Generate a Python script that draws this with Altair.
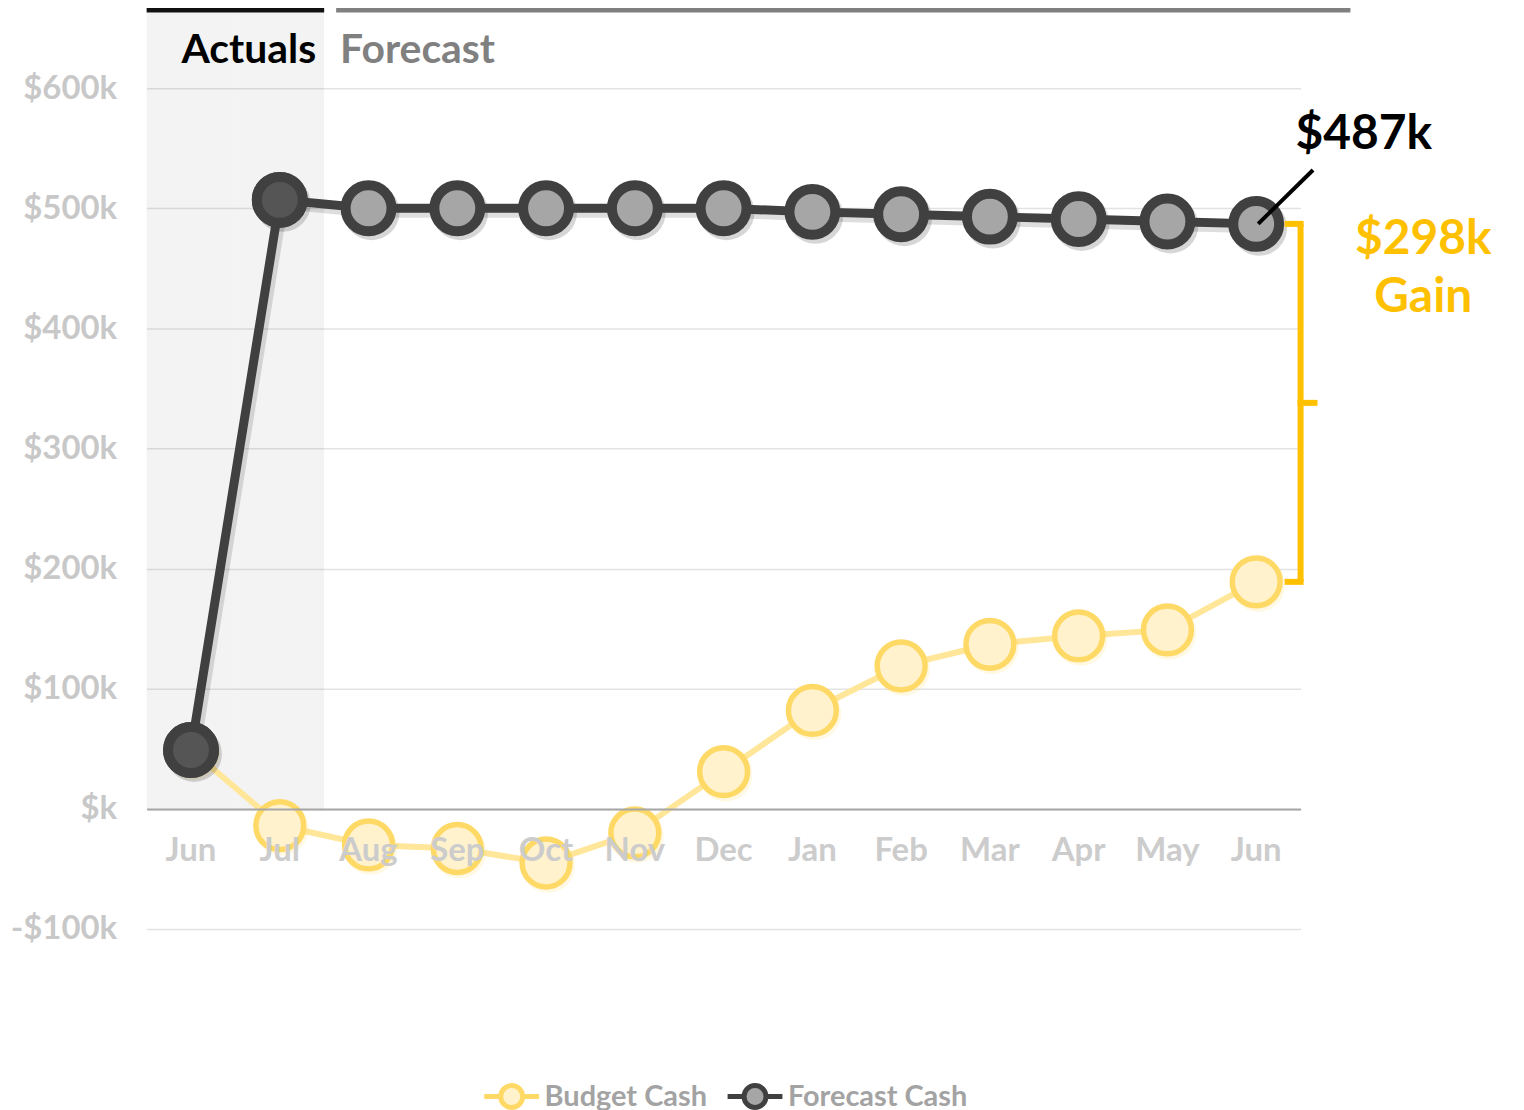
import altair as alt
import pandas as pd

# ---------------- data (in $k) ----------------
periods = ["Jun 2023", "Jul 2023", "Aug 2023", "Sep 2023", "Oct 2023", "Nov 2023",
           "Dec 2023", "Jan 2024", "Feb 2024", "Mar 2024", "Apr 2024", "May 2024", "Jun 2024"]
budget_cash = [49, -14, -30, -33, -45, -20, 31, 82, 119, 137, 144, 149, 189]
forecast_cash = [49, 507, 500, 500, 500, 500, 500, 497, 495, 493, 491, 489, 487]
is_actual = [True, True, False, False, False, False, False, False, False, False, False, False, False]
series_names = ["Budget Cash", "Forecast Cash"]
y_ticks = [-100, 0, 100, 200, 300, 400, 500, 600]

Y_TOP = 663000
Y_BOTTOM = -100000
FONT = "Lato"
PLOT_W = 1157
PLOT_H = 919

budget_df = pd.DataFrame({"period": periods, "value": [v * 1000 for v in budget_cash],
                          "series": "Budget Cash"})
forecast_df = pd.DataFrame({"period": periods, "value": [v * 1000 for v in forecast_cash],
                            "series": "Forecast Cash", "actual": is_actual})
actual_df = forecast_df[forecast_df["actual"]]
shade_df = pd.DataFrame({"period": [p for p, a in zip(periods, is_actual) if a],
                         "value": Y_TOP, "zero": 0})
header_df = pd.DataFrame({"period": [periods[2]], "value": [Y_TOP]})
bar_df = pd.DataFrame({"period": [periods[0], periods[2]], "end": [periods[1], periods[-1]],
                       "value": [Y_TOP, Y_TOP], "kind": ["act", "fc"]})
gain = forecast_cash[-1] - budget_cash[-1]
ann_df = pd.DataFrame({
    "period": [periods[-1]],
    "value": [forecast_cash[-1] * 1000],
    "budget": [budget_cash[-1] * 1000],
    "mid": [(forecast_cash[-1] + budget_cash[-1]) * 500],
    "label": [f"${forecast_cash[-1]}k"],
    "gain": [f"${gain}k\nGain"],
})

xscale = alt.Scale(type="band", domain=periods, paddingInner=0, paddingOuter=0)
yscale = alt.Scale(domain=[Y_BOTTOM, Y_TOP], nice=False, zero=False)

x_axis = alt.Axis(
    title=None, labelExpr="substring(datum.label, 0, 3)", labelAngle=0,
    labelFont=FONT, labelFontSize=33, labelFontWeight="bold", labelColor="#cccccc",
    ticks=False, domainColor="#a6a6a6", domainWidth=2, grid=False,
    offset=-(100000 * PLOT_H / (Y_TOP - Y_BOTTOM)), labelPadding=26, zindex=1)
y_axis = alt.Axis(
    title=None, values=[v * 1000 for v in y_ticks],
    labelExpr="datum.value == 0 ? '$k' : (datum.value < 0 ? '-$' + format(-datum.value/1000, 'd') + 'k' : '$' + format(datum.value/1000, 'd') + 'k')",
    labelFont=FONT, labelFontSize=33, labelFontWeight="bold", labelColor="#c8c8c8",
    ticks=False, domain=False, gridColor="#e3e3e3", gridWidth=1.5, labelPadding=30)


def X(field="period", bp=None):
    kw = {}
    if bp is not None:
        kw["bandPosition"] = bp
    return alt.X(f"{field}:O", scale=xscale, axis=x_axis, title=None, **kw)


def Y(field="value"):
    return alt.Y(f"{field}:Q", scale=yscale, axis=y_axis, title=None)


fill_scale = alt.Scale(domain=series_names, range=["#FFF2CC", "#A6A6A6"])
stroke_scale = alt.Scale(domain=series_names, range=["#FFD966", "#404040"])
legend = alt.Legend(
    title=None, orient="none", legendX=336, legendY=1057, direction="horizontal",
    symbolType="M-1,0L-0.4,0M0.4,0L1,0M0.4,0A0.4,0.4,0,1,1,-0.4,0A0.4,0.4,0,1,1,0.4,0",
    symbolSize=3025, symbolStrokeWidth=5, labelFont=FONT, labelFontSize=29,
    labelFontWeight="bold", labelColor="#a3a3a3", labelOffset=3, columnPadding=10,
    padding=0, labelLimit=400)

shade = alt.Chart(shade_df).mark_rect(fill="#000000", opacity=0.047).encode(
    x=X(), y=Y(), y2="zero:Q")

budget_line = alt.Chart(budget_df).mark_line(color="#FFE699", strokeWidth=6).encode(
    x=X(), y=Y())
budget_glow = alt.Chart(budget_df).mark_circle(color="#FFD966", opacity=0.18, size=2900,
                                               xOffset=2, yOffset=3).encode(x=X(), y=Y())
budget_pts = alt.Chart(budget_df).mark_circle(size=2304, strokeWidth=5.5, opacity=1).encode(
    x=X(), y=Y(),
    fill=alt.Fill("series:N", scale=fill_scale, legend=legend),
    stroke=alt.Stroke("series:N", scale=stroke_scale, legend=legend))

fc_line_shadow = alt.Chart(forecast_df).mark_line(color="#000000", opacity=0.13, strokeWidth=11,
                                                  xOffset=3, yOffset=4).encode(x=X(), y=Y())
fc_pts_shadow = alt.Chart(forecast_df).mark_circle(color="#000000", opacity=0.16, size=3136,
                                                   xOffset=3, yOffset=4).encode(x=X(), y=Y())
fc_line = alt.Chart(forecast_df).mark_line(color="#404040", strokeWidth=9).encode(
    x=X(), y=Y())
fc_pts = alt.Chart(forecast_df).mark_circle(size=2116, strokeWidth=10, opacity=1).encode(
    x=X(), y=Y(),
    fill=alt.Fill("series:N", scale=fill_scale, legend=legend),
    stroke=alt.Stroke("series:N", scale=stroke_scale, legend=legend))
act_pts = alt.Chart(actual_df).mark_circle(size=2116, strokeWidth=10, opacity=1,
                                           fill="#555555", stroke="#404040").encode(
    x=X(), y=Y())

# header
act_text = alt.Chart(header_df).mark_text(
    text="Actuals", align="right", baseline="alphabetic", dx=-8, dy=51,
    font=FONT, fontSize=41, fontWeight="bold", color="#000000").encode(
    x=X(bp=0), y=Y())
fc_text = alt.Chart(header_df).mark_text(
    text="Forecast", align="left", baseline="alphabetic", dx=16, dy=51,
    font=FONT, fontSize=41, fontWeight="bold", color="#808080").encode(
    x=X(bp=0), y=Y())
bar_act = alt.Chart(bar_df[bar_df.kind == "act"]).mark_rule(
    color="#111111", strokeWidth=5, yOffset=-2.5).encode(
    x=X(bp=0), x2=alt.X2("end", bandPosition=1), y=Y())
bar_fc = alt.Chart(bar_df[bar_df.kind == "fc"]).mark_rule(
    color="#808080", strokeWidth=5, yOffset=-2.5, xOffset=12, x2Offset=50).encode(
    x=X(bp=0), x2=alt.X2("end", bandPosition=1), y=Y())

# annotations
leader = alt.Chart(ann_df).mark_rule(color="#000000", strokeWidth=4, xOffset=2, x2Offset=57,
                                     y2Offset=-54).encode(
    x=X(bp=0.5), x2=alt.X2("period", bandPosition=0.5), y=Y(), y2="value:Q")
val_text = alt.Chart(ann_df).mark_text(
    align="center", baseline="alphabetic", dx=108, dy=-75,
    font=FONT, fontSize=48, fontWeight="bold", color="#000000").encode(
    x=X(bp=0.5), y=Y(), text="label:N")
BR = "#FFC000"
br_vert = alt.Chart(ann_df).mark_rule(color=BR, strokeWidth=6).encode(
    x=X(bp=1), y=Y(), y2="budget:Q")
br_top = alt.Chart(ann_df).mark_rule(color=BR, strokeWidth=6, xOffset=-16, x2Offset=3).encode(
    x=X(bp=1), x2=alt.X2("period", bandPosition=1), y=Y())
br_bot = alt.Chart(ann_df).mark_rule(color=BR, strokeWidth=6, xOffset=-16, x2Offset=3).encode(
    x=X(bp=1), x2=alt.X2("period", bandPosition=1), y=Y("budget"))
br_mid = alt.Chart(ann_df).mark_rule(color=BR, strokeWidth=6, xOffset=-3, x2Offset=17).encode(
    x=X(bp=1), x2=alt.X2("period", bandPosition=1), y=Y("mid"))
gain_text = alt.Chart(ann_df).mark_text(
    align="center", baseline="alphabetic", dx=123, dy=30, lineBreak="\n", lineHeight=58,
    font=FONT, fontSize=48, fontWeight="bold", color=BR).encode(
    x=X(bp=1), y=Y(), text="gain:N")

chart = alt.layer(
    shade, budget_line, budget_glow, budget_pts,
    fc_line_shadow, fc_pts_shadow, fc_line, fc_pts, act_pts,
    act_text, fc_text, bar_act, bar_fc,
    leader, val_text, br_vert, br_top, br_bot, br_mid, gain_text,
).properties(
    width=PLOT_W, height=PLOT_H,
    padding={"left": 139, "top": 3, "right": 216, "bottom": 185},
    autosize=alt.AutoSizeParams(type="none"),
).configure_view(stroke=None)

chart.save("out.html", embed_options={"renderer": "svg", "actions": False})
